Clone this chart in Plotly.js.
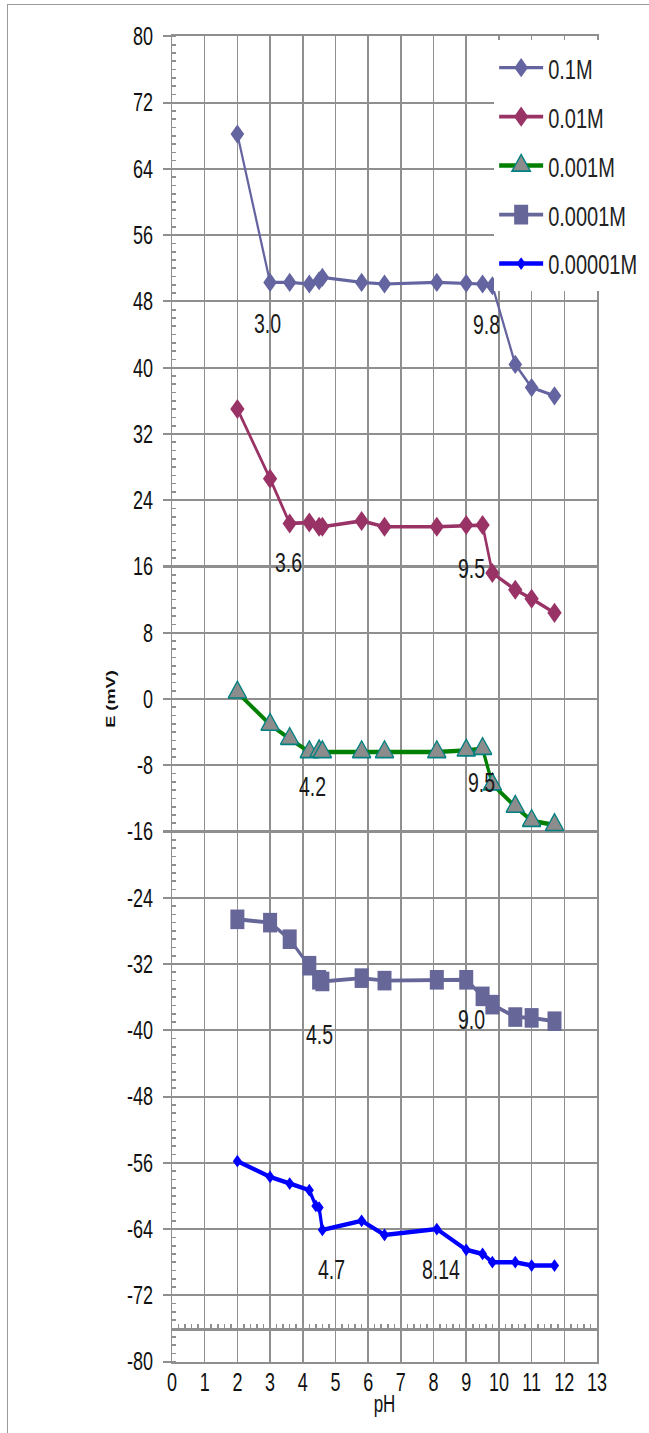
<!DOCTYPE html>
<html>
<head>
<meta charset="utf-8">
<script src="https://cdn.plot.ly/plotly-3.0.1.min.js"></script>
<style>
  html, body { margin: 0; padding: 0; background: #ffffff; overflow: hidden; }
  #frame { position: absolute; left: 7px; top: 4px; width: 700px; height: 1500px; border: 1.5px solid #9a9a9a; }
  /* the reference picture is a vertically stretched spreadsheet chart: draw it at 1024 px and stretch to 1433 px */
  #chart { position: absolute; left: 0; top: 0; width: 649px; height: 1024px;
           transform: scaleY(1.39941); transform-origin: 0 0; }
</style>
</head>
<body>
<div id="frame"></div>
<div id="chart"></div>
<script>
// ---- data ----
const seriesNames = ['0.1M', '0.01M', '0.001M', '0.0001M', '0.00001M'];

const ph_01 = [2, 3, 3.6, 4.2, 4.5, 4.6, 5.8, 6.5, 8.1, 9.0, 9.5, 9.8, 10.5, 11.0, 11.7];
const e_01  = [68.2, 50.3, 50.3, 50.1, 50.5, 50.9, 50.3, 50.1, 50.3, 50.2, 50.1, 49.9, 40.4, 37.6, 36.6];

const ph_001 = [2, 3, 3.6, 4.2, 4.5, 4.6, 5.8, 6.5, 8.1, 9.0, 9.5, 9.8, 10.5, 11.0, 11.7];
const e_001  = [35.0, 26.6, 21.2, 21.3, 20.8, 20.8, 21.5, 20.8, 20.8, 21.0, 21.0, 15.2, 13.2, 12.1, 10.4];

const ph_0001 = [2, 3, 3.6, 4.2, 4.5, 4.6, 5.8, 6.5, 8.1, 9.0, 9.5, 9.8, 10.5, 11.0, 11.7];
const e_0001  = [0.8, -3.1, -4.8, -6.4, -6.3, -6.4, -6.4, -6.4, -6.4, -6.2, -6.0, -10.3, -13.0, -14.7, -15.2];

const ph_00001 = [2, 3, 3.6, 4.2, 4.5, 4.6, 5.8, 6.5, 8.1, 9.0, 9.5, 9.8, 10.5, 11.0, 11.7];
const e_00001  = [-26.6, -27.0, -29.0, -32.2, -33.9, -34.1, -33.7, -34.0, -33.9, -33.9, -35.9, -36.9, -38.4, -38.5, -38.9];

const ph_000001 = [2, 3, 3.6, 4.2, 4.4, 4.5, 4.6, 5.8, 6.5, 8.1, 9.0, 9.5, 9.8, 10.5, 11.0, 11.7];
const e_000001  = [-55.8, -57.7, -58.5, -59.3, -61.2, -61.4, -64.1, -63.0, -64.7, -64.0, -66.5, -67.0, -68.0, -68.0, -68.4, -68.4];

// break-point labels
const labelText = ['3.0', '9.8', '3.6', '9.5', '4.2', '9.5', '4.5', '9.0', '4.7', '8.14'];
const labelPh   = [2.92, 9.61, 3.57, 9.16, 4.29, 9.46, 4.52, 9.15, 4.87, 8.23];
const labelE    = [45.3, 45.2, 16.4, 15.8, -10.5, -10.0, -40.4, -38.6, -68.8, -68.9];

const xTicks = [0,1,2,3,4,5,6,7,8,9,10,11,12,13];
const yTicks = [80,72,64,56,48,40,32,24,16,8,0,-8,-16,-24,-32,-40,-48,-56,-64,-72,-80];

// ---- styling ----
const FONT = "'Liberation Sans', Arial, sans-serif";
const GRID = '#8f8f8f';

const traces = [
  { name: seriesNames[0], x: ph_01, y: e_01, mode: 'lines+markers', legendgroup: 'g1',
    line: { color: '#6464a0', width: 2.2 },
    marker: { symbol: 'diamond', size: 10.5, color: '#6464a0' } },
  { name: seriesNames[1], x: ph_001, y: e_001, mode: 'lines+markers', legendgroup: 'g2',
    line: { color: '#993366', width: 2.6 },
    marker: { symbol: 'diamond', size: 11, color: '#993366' } },
  { name: seriesNames[2], x: ph_0001, y: e_0001, mode: 'lines+markers', legendgroup: 'g3',
    line: { color: '#008000', width: 3.2 },
    marker: { symbol: 'triangle-up', size: 16, color: '#8c8c8c', line: { color: '#008080', width: 1.2 } } },
  { name: seriesNames[3], x: ph_00001, y: e_00001, mode: 'lines+markers', legendgroup: 'g4',
    line: { color: '#666699', width: 2.8 },
    marker: { symbol: 'square', size: 14, color: '#666699' } },
  { name: seriesNames[4], x: ph_000001, y: e_000001, mode: 'lines+markers', legendgroup: 'g5',
    line: { color: '#0000ff', width: 3.2 },
    marker: { symbol: 'diamond', size: 7, color: '#0000ff' } },
  // carrier for the horizontal axis line drawn at E = -76
  { x: [], y: [], xaxis: 'x2', yaxis: 'y', showlegend: false, hoverinfo: 'skip', mode: 'lines' }
];

const annotations = labelText.map((t, i) => ({
  x: labelPh[i], y: labelE[i], xref: 'x', yref: 'y', text: t, showarrow: false,
  font: { family: FONT, size: 19.5, color: '#1a1a1a' }
}));

const layout = {
  width: 649, height: 1024,
  margin: { l: 172, r: 52, t: 25.7, b: 51.4, autoexpand: false },
  paper_bgcolor: 'rgba(0,0,0,0)',
  plot_bgcolor: '#ffffff',
  font: { family: FONT, size: 18, color: '#111111' },
  showlegend: true,
  xaxis: {
    range: [0, 13], tickmode: 'array', tickvals: xTicks, ticktext: xTicks.map(String),
    showgrid: true, gridcolor: GRID, gridwidth: 1.6,
    showline: true, mirror: true, linecolor: GRID, linewidth: 1.6,
    ticks: '', zeroline: false, ticklabelstandoff: -2,
    tickfont: { family: FONT, size: 18, color: '#111' },
    title: { text: 'pH', font: { family: FONT, size: 17, color: '#111' }, standoff: 0 }
  },
  xaxis2: {
    overlaying: 'x', anchor: 'free', position: 0.025, range: [0, 13],
    showgrid: false, zeroline: false, showticklabels: false,
    showline: true, linecolor: GRID, linewidth: 1.6,
    ticks: 'inside', ticklen: 3.5, tickwidth: 1.5, tickcolor: GRID, dtick: 1, tick0: 0,
    minor: { ticks: 'inside', dtick: 0.2, ticklen: 3.5, tickwidth: 1.5, tickcolor: GRID, showgrid: false }
  },
  yaxis: {
    range: [-80, 80], tickmode: 'array', tickvals: yTicks, ticktext: yTicks.map(String),
    showgrid: true, gridcolor: GRID, gridwidth: 1.5,
    showline: true, mirror: true, linecolor: GRID, linewidth: 1.5,
    ticks: 'outside', ticklen: 8, tickwidth: 1.5, tickcolor: GRID, zeroline: false,
    ticklabelstandoff: 6,
    tickfont: { family: FONT, size: 18, color: '#111' },
    minor: { ticks: 'inside', dtick: 1, tick0: 0, ticklen: 4, tickwidth: 1.2, tickcolor: GRID, showgrid: false },
    title: { text: 'E (mV)', font: { family: FONT, size: 13, weight: 'bold', color: '#111' }, standoff: 8 }
  },
  legend: {
    x: 0.758, y: 0.997, xanchor: 'left', yanchor: 'top',
    bgcolor: '#ffffff', borderwidth: 0,
    font: { family: FONT, size: 20, color: '#222' },
    tracegroupgap: 6, itemwidth: 44, traceorder: 'grouped'
  },
  annotations: annotations
};

Plotly.newPlot('chart', traces, layout, { displayModeBar: false, staticPlot: true });
</script>
</body>
</html>
